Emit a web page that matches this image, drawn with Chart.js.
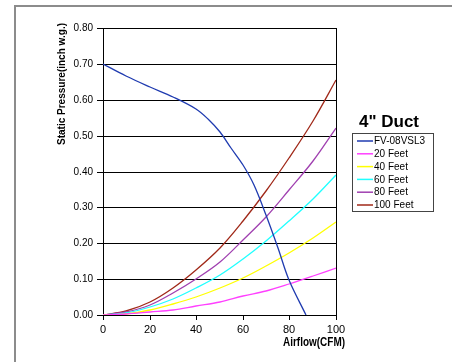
<!DOCTYPE html>
<html>
<head>
<meta charset="utf-8">
<script src="https://cdn.jsdelivr.net/npm/chart.js@4/dist/chart.umd.min.js"></script>
<style>
  html, body { margin: 0; padding: 0; background: #fff; }
  #wrap { width: 452px; height: 362px; }
</style>
</head>
<body>
<div id="wrap"><canvas id="ductChart" width="452" height="362"></canvas></div>
<script>
// fan curve (blue)
const fanAirflow  = [0, 10, 20, 30, 40, 45, 50, 55, 60, 65, 70, 75, 80, 87];
const fanPressure = [0.70, 0.667, 0.636, 0.609, 0.573, 0.546, 0.510, 0.466, 0.418, 0.362, 0.280, 0.188, 0.097, 0.0];

// duct resistance curves
const ductAirflow = [0, 10, 20, 30, 40, 50, 60, 70, 80, 90, 100];
const duct20  = [0, 0.002, 0.007, 0.015, 0.025, 0.037, 0.052, 0.068, 0.087, 0.108, 0.13];
const duct40  = [0, 0.004, 0.014, 0.030, 0.050, 0.075, 0.104, 0.137, 0.174, 0.215, 0.26];
const duct60  = [0, 0.006, 0.022, 0.045, 0.075, 0.112, 0.156, 0.205, 0.261, 0.323, 0.39];
const duct80  = [0, 0.008, 0.029, 0.060, 0.100, 0.149, 0.208, 0.274, 0.348, 0.430, 0.52];
const duct100 = [0, 0.010, 0.036, 0.075, 0.126, 0.188, 0.261, 0.345, 0.438, 0.542, 0.655];

const seriesNames = ['FV-08VSL3', '20 Feet', '40 Feet', '60 Feet', '80 Feet', '100 Feet'];
const seriesColors = ['#1F3BB0', '#FF40FF', '#FFFF00', '#20FFFF', '#A040B0', '#A02818'];

const chartTitle = '4" Duct';
const xTitle = 'Airflow(CFM)';
const yTitle = 'Static Pressure(inch w.g.)';

function pts(xs, ys) {
    return xs.map((x, i) => ({ x: x, y: ys[i] }));
}

const allSeries = [
    pts(fanAirflow, fanPressure),
    pts(ductAirflow, duct20),
    pts(ductAirflow, duct40),
    pts(ductAirflow, duct60),
    pts(ductAirflow, duct80),
    pts(ductAirflow, duct100)
];

// frame, axis titles and legend box
const decorPlugin = {
    id: 'decor',
    afterDraw(chart) {
        const c = chart.ctx;
        c.save();

        // outer frame (only left/top visible)
        c.strokeStyle = '#8c8c8c';
        c.lineWidth = 2;
        c.beginPath();
        c.moveTo(15, 362);
        c.lineTo(15, 6);
        c.lineTo(452, 6);
        c.stroke();

        // y axis title, squeezed
        c.fillStyle = '#000';
        c.font = 'bold 11px "Liberation Sans", Arial, sans-serif';
        c.textAlign = 'center';
        c.textBaseline = 'middle';
        let w = c.measureText(yTitle).width;
        c.save();
        c.translate(62, 84);
        c.rotate(-Math.PI / 2);
        c.scale(122 / w, 1);
        c.fillText(yTitle, 0, 0);
        c.restore();

        // x axis title
        c.font = 'bold 12px "Liberation Sans", Arial, sans-serif';
        w = c.measureText(xTitle).width;
        c.save();
        c.translate(314, 343);
        c.scale(62 / w, 1);
        c.fillText(xTitle, 0, 0);
        c.restore();

        // chart title
        c.font = 'bold 17px "Liberation Sans", Arial, sans-serif';
        c.textBaseline = 'alphabetic';
        c.fillText(chartTitle, 389, 127);

        // legend
        const lx = 352.5, ly = 133.5, lw = 81, lh = 78;
        c.strokeStyle = '#444';
        c.lineWidth = 1;
        c.strokeRect(lx, ly, lw, lh);
        c.font = '10px "Liberation Sans", Arial, sans-serif';
        c.textAlign = 'left';
        c.textBaseline = 'middle';
        chart.data.datasets.forEach((ds, i) => {
            const y = 141 + i * 12.8;
            c.strokeStyle = ds.borderColor;
            c.lineWidth = 1.5;
            c.beginPath();
            c.moveTo(357, y);
            c.lineTo(373, y);
            c.stroke();
            c.fillStyle = '#000';
            c.fillText(ds.label, 374, y + 0.5);
        });

        c.restore();
    }
};

const chart = new Chart(document.getElementById('ductChart'), {
    type: 'scatter',
    data: {
        datasets: allSeries.map((d, i) => ({
            label: seriesNames[i],
            data: d,
            showLine: true,
            borderColor: seriesColors[i],
            backgroundColor: seriesColors[i],
            borderWidth: 1.3,
            pointRadius: 0,
            tension: 0.35,
            fill: false
        }))
    },
    options: {
        responsive: false,
        animation: false,
        layout: { padding: { top: 28, right: 116, left: 0, bottom: 0 } },
        scales: {
            x: {
                type: 'linear',
                min: 0,
                max: 100,
                alignToPixels: true,
                afterFit: s => { s.height = 47; },
                ticks: {
                    stepSize: 20,
                    color: '#000',
                    padding: 3,
                    font: { family: '"Liberation Sans", Arial, sans-serif', size: 11 }
                },
                grid: {
                    color: ctx => (ctx.tick && ctx.tick.value === 100) ? '#000' : 'rgba(0,0,0,0)',
                    tickColor: '#000',
                    tickLength: 5
                },
                border: { color: '#000', width: 1 }
            },
            y: {
                min: 0,
                max: 0.8,
                alignToPixels: true,
                afterFit: s => { s.width = 103; },
                ticks: {
                    stepSize: 0.1,
                    color: '#000',
                    padding: 4,
                    callback: v => v.toFixed(2),
                    font: { family: '"Liberation Sans", Arial, sans-serif', size: 10 }
                },
                grid: {
                    color: '#000',
                    tickColor: '#000',
                    tickLength: 6
                },
                border: { color: '#000', width: 1 }
            }
        },
        plugins: {
            legend: { display: false },
            tooltip: { enabled: false }
        }
    },
    plugins: [decorPlugin]
});
</script>
</body>
</html>
